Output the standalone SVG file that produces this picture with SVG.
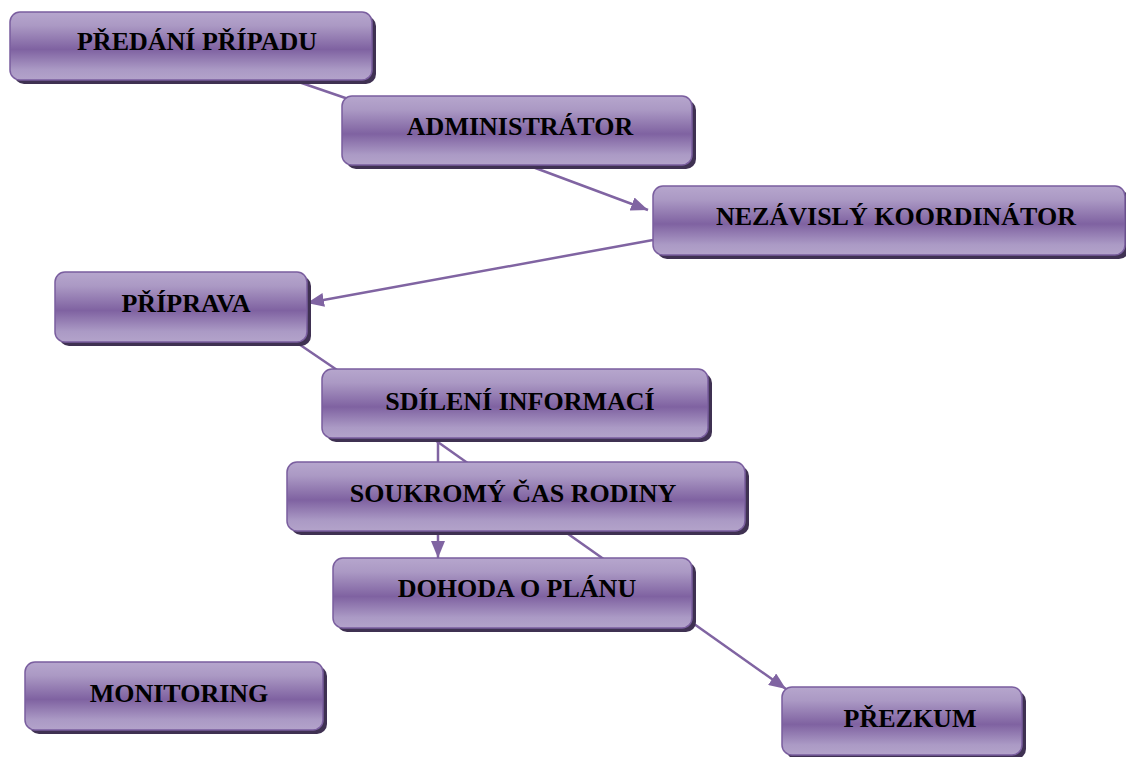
<svg xmlns="http://www.w3.org/2000/svg" width="1126" height="757" viewBox="0 0 1126 757">
<style>
.box{fill:url(#g);stroke:#7a5e9f;stroke-width:1.5}
.sh{fill:#3f3152}
.t{font-family:"Liberation Serif","Times New Roman",serif;font-weight:bold;font-size:26px;fill:#000;text-anchor:middle}
.c{stroke:#8064a2;stroke-width:2.5;fill:none}
</style>
<defs>
<linearGradient id="g" x1="0" y1="0" x2="0" y2="1">
<stop offset="0" stop-color="#b6a6cd"/>
<stop offset="0.2" stop-color="#ab99c4"/>
<stop offset="0.55" stop-color="#7f62a1"/>
<stop offset="0.85" stop-color="#ab9ac5"/>
<stop offset="1" stop-color="#b3a3ca"/>
</linearGradient>
<marker id="a" viewBox="0 0 17 14" refX="17" refY="7" markerWidth="17" markerHeight="14" markerUnits="userSpaceOnUse" orient="auto">
<path d="M0,0 L17,7 L0,14 z" fill="#8064a2"/>
</marker>
</defs>
<g id="connectors">
<line class="c" x1="290" y1="79" x2="360" y2="103"/>
<line class="c" x1="530" y1="166" x2="648" y2="210" marker-end="url(#a)"/>
<line class="c" x1="653" y1="240" x2="307" y2="303" marker-end="url(#a)"/>
<line class="c" x1="290" y1="338" x2="340" y2="372"/>
<line class="c" x1="438" y1="440" x2="438" y2="558" marker-end="url(#a)"/>
<line class="c" x1="435" y1="440" x2="605" y2="560"/>
<line class="c" x1="680" y1="614" x2="786" y2="689" marker-end="url(#a)"/>
</g>
<g id="n1"><rect class="sh" x="14" y="16" width="362" height="68" rx="10"/><rect class="box" x="10" y="12" width="362" height="68" rx="10"/><text class="t" x="197" y="50">PŘEDÁNÍ PŘÍPADU</text></g>
<g id="n2"><rect class="sh" x="346" y="100" width="350" height="69" rx="10"/><rect class="box" x="342" y="96" width="350" height="69" rx="10"/><text class="t" x="520" y="135">ADMINISTRÁTOR</text></g>
<g id="n3"><rect class="sh" x="657" y="190" width="472" height="69" rx="10"/><rect class="box" x="653" y="186" width="472" height="69" rx="10"/><text class="t" x="896" y="225">NEZÁVISLÝ KOORDINÁTOR</text></g>
<g id="n4"><rect class="sh" x="59" y="276" width="252" height="70" rx="10"/><rect class="box" x="55" y="272" width="252" height="70" rx="10"/><text class="t" x="186" y="312">PŘÍPRAVA</text></g>
<g id="n5"><rect class="sh" x="326" y="373" width="386" height="69" rx="10"/><rect class="box" x="322" y="369" width="386" height="69" rx="10"/><text class="t" x="520" y="410">SDÍLENÍ INFORMACÍ</text></g>
<g id="n6"><rect class="sh" x="291" y="466" width="458" height="69" rx="10"/><rect class="box" x="287" y="462" width="458" height="69" rx="10"/><text class="t" x="513" y="502">SOUKROMÝ ČAS RODINY</text></g>
<g id="n7"><rect class="sh" x="337" y="562" width="359" height="70" rx="10"/><rect class="box" x="333" y="558" width="359" height="70" rx="10"/><text class="t" x="517" y="597">DOHODA O PLÁNU</text></g>
<g id="n8"><rect class="sh" x="29" y="666" width="298" height="68" rx="10"/><rect class="box" x="25" y="662" width="298" height="68" rx="10"/><text class="t" x="179" y="702">MONITORING</text></g>
<g id="n9"><rect class="sh" x="786" y="691" width="240" height="68" rx="10"/><rect class="box" x="782" y="687" width="240" height="68" rx="10"/><text class="t" x="910" y="727">PŘEZKUM</text></g>
</svg>
